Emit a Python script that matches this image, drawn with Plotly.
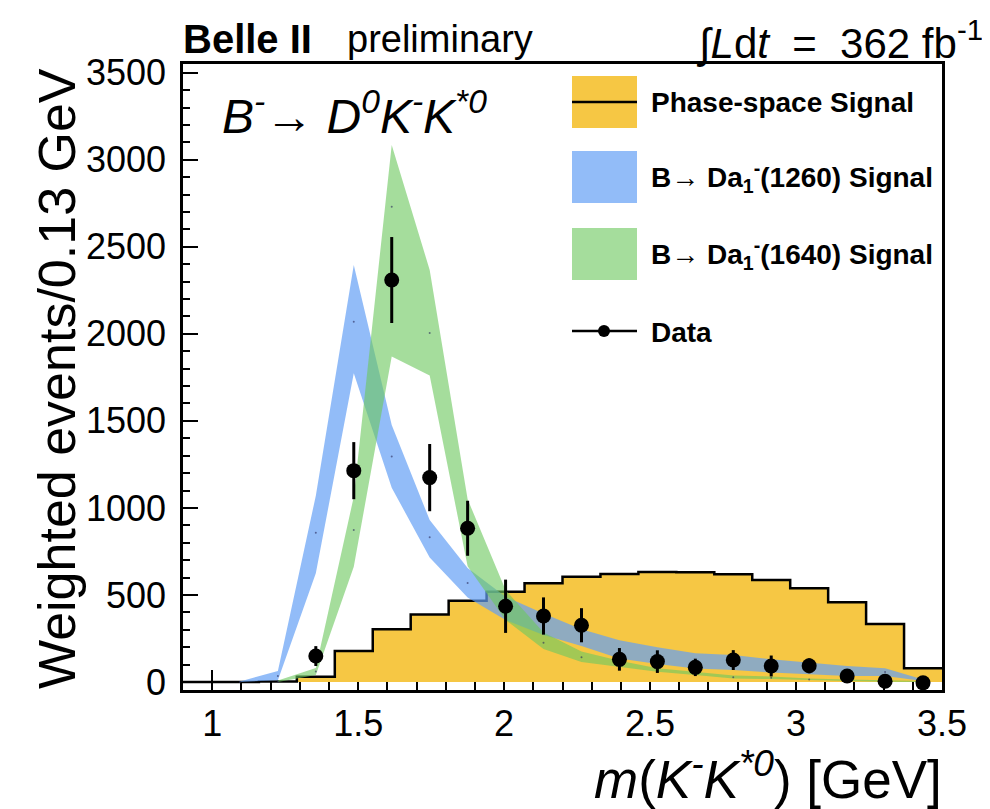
import plotly.graph_objects as go

# 20 bins of 0.13 GeV between 0.9 and 3.5 GeV
bin_edges = [0.90, 1.03, 1.16, 1.29, 1.42, 1.55, 1.68, 1.81, 1.94, 2.07, 2.20,
             2.33, 2.46, 2.59, 2.72, 2.85, 2.98, 3.11, 3.24, 3.37, 3.50]
bin_centers = [0.965, 1.095, 1.225, 1.355, 1.485, 1.615, 1.745, 1.875, 2.005, 2.135,
               2.265, 2.395, 2.525, 2.655, 2.785, 2.915, 3.045, 3.175, 3.305, 3.435]

# phase-space signal histogram (one value per bin)
phase_space = [0, 0, 3, 30, 178, 303, 388, 466, 519, 567,
               605, 620, 632, 630, 619, 586, 538, 458, 333, 79]

# B -> D a1(1260) band, bins 2..20
a1260_x = bin_centers[1:]
a1260_low = [0, 10, 624, 1773, 1116, 715, 485, 356, 270, 207,
             135, 103, 77, 69, 54, 46, 34, 34, 5]
a1260_up = [3, 63, 1070, 2395, 1476, 930, 655, 490, 394, 303,
            240, 199, 165, 155, 130, 111, 92, 79, 15]
a1260_mid = [0, 34, 858, 2070, 1296, 831, 569, 423, 332, 255,
             185, 151, 121, 112, 92, 78, 63, 57, 10]

# B -> D a1(1640) band, bins 3..20
a1640_x = bin_centers[2:]
a1640_low = [0, 40, 662, 1870, 1760, 665, 356, 190, 115, 88,
             59, 40, 20, 17, 9, 5, 2, 0]
a1640_up = [8, 80, 1064, 3085, 2367, 1050, 528, 285, 175, 122,
            79, 59, 38, 32, 20, 14, 9, 5]
a1640_mid = [3, 60, 873, 2730, 2005, 850, 450, 226, 142, 105,
             70, 50, 27, 25, 15, 10, 6, 3]

# data points, bins 4..20
data_x = bin_centers[3:]
data_y = [149, 1214, 2309, 1174, 883, 435, 379, 326, 130, 117,
          84, 126, 92, 93, 34, 4, -5]
data_err = [57, 164, 247, 193, 158, 153, 107, 98, 65, 65,
            50, 57, 60, 43, 25, 15, 10]

YELLOW = "#F6C744"
BLUE = "rgba(100,160,245,0.70)"
GREEN = "rgba(110,200,95,0.62)"
FONT = "Liberation Sans, Arial, sans-serif"

# the page body adds an 8px margin, so the figure is a bit smaller
OFF = 8
W, H = 990 - OFF, 809 - OFF
# plot area in screen pixels
L, R, T, B = 183, 942, 64, 690


def px(x):
    return (x - L) / (R - L)


def py(y):
    return (B - y) / (B - T)


fig = go.Figure()

# phase-space histogram as steps
fig.add_trace(go.Scatter(
    x=bin_edges,
    y=phase_space + [phase_space[-1]],
    mode="lines",
    line=dict(shape="hv", color="black", width=2.5),
    fill="tozeroy",
    fillcolor=YELLOW,
    hoverinfo="skip",
))


def add_band(x, low, up, mid, color):
    fig.add_trace(go.Scatter(x=x, y=low, mode="lines", line=dict(width=0),
                             hoverinfo="skip"))
    fig.add_trace(go.Scatter(x=x, y=up, mode="lines", line=dict(width=0),
                             fill="tonexty", fillcolor=color, hoverinfo="skip"))
    fig.add_trace(go.Scatter(x=x, y=mid, mode="markers",
                             marker=dict(size=2, color="rgba(40,40,90,0.6)"),
                             hoverinfo="skip"))


add_band(a1260_x, a1260_low, a1260_up, a1260_mid, BLUE)
add_band(a1640_x, a1640_low, a1640_up, a1640_mid, GREEN)

# data
fig.add_trace(go.Scatter(
    x=data_x, y=data_y, mode="markers",
    marker=dict(size=15, color="black"),
    error_y=dict(type="data", array=data_err, color="black", thickness=3, width=0),
))

fig.update_layout(
    width=W, height=H,
    margin=dict(l=L - OFF, r=W - (R - OFF), t=T - OFF, b=H - (B - OFF)),
    plot_bgcolor="white", paper_bgcolor="white",
    showlegend=False,
    font=dict(family=FONT, color="black"),
)

fig.update_xaxes(
    range=[0.9, 3.5], tick0=1, dtick=0.5,
    ticks="inside", ticklen=20, tickwidth=2, tickcolor="black",
    minor=dict(dtick=0.1, ticks="inside", ticklen=8, tickwidth=2, tickcolor="black"),
    showgrid=False, zeroline=False,
    showline=True, linewidth=2.5, linecolor="black", mirror=True,
    tickfont=dict(size=36), ticklabelstandoff=0,
    layer="below traces",
)
fig.update_yaxes(
    range=[-46, 3550], tick0=0, dtick=500,
    ticks="inside", ticklen=15, tickwidth=2, tickcolor="black",
    minor=dict(dtick=100, ticks="inside", ticklen=7, tickwidth=2, tickcolor="black"),
    showgrid=False, zeroline=False,
    showline=True, linewidth=2.5, linecolor="black", mirror=True,
    tickfont=dict(size=36), ticklabelstandoff=7,
)

# legend drawn by hand
legend_rows = [
    (102, YELLOW, "<b>Phase-space Signal</b>"),
    (177, BLUE, "<b>B→ Da<sub>1</sub><sup>-</sup>(1260) Signal</b>"),
    (254, GREEN, "<b>B→ Da<sub>1</sub><sup>-</sup>(1640) Signal</b>"),
]
for yc, col, label in legend_rows:
    fig.add_shape(type="rect", xref="paper", yref="paper",
                  x0=px(572), x1=px(637), y0=py(yc + 26), y1=py(yc - 26),
                  fillcolor=col, line=dict(width=0), layer="above")
    fig.add_annotation(x=px(649), y=py(yc), xref="paper", yref="paper",
                       text=label, showarrow=False, xanchor="left", yanchor="middle",
                       font=dict(size=28))
fig.add_shape(type="line", xref="paper", yref="paper",
              x0=px(572), x1=px(637), y0=py(102), y1=py(102),
              line=dict(color="black", width=2.5))
fig.add_shape(type="line", xref="paper", yref="paper",
              x0=px(572), x1=px(637), y0=py(331), y1=py(331),
              line=dict(color="black", width=2.5))
fig.add_shape(type="circle", xref="paper", yref="paper",
              x0=px(598), x1=px(610), y0=py(337), y1=py(325),
              fillcolor="black", line=dict(width=0))
fig.add_annotation(x=px(649), y=py(332), xref="paper", yref="paper",
                   text="<b>Data</b>", showarrow=False, xanchor="left",
                   yanchor="middle", font=dict(size=28))

# header and labels
fig.add_annotation(x=px(181), y=py(39), xref="paper", yref="paper",
                   text="<b>Belle II</b>", showarrow=False, xanchor="left",
                   yanchor="middle", font=dict(size=40))
fig.add_annotation(x=px(345), y=py(39), xref="paper", yref="paper",
                   text="preliminary", showarrow=False, xanchor="left",
                   yanchor="middle", font=dict(size=38))
fig.add_annotation(x=px(985), y=py(40), xref="paper", yref="paper",
                   text="∫<i>L</i>d<i>t</i>  =  362 fb<sup>-1</sup>", showarrow=False,
                   xanchor="right", yanchor="middle", font=dict(size=42))
fig.add_annotation(x=px(220), y=py(113), xref="paper", yref="paper",
                   text="<i>B<sup>-</sup>→ D<sup>0</sup>K<sup>-</sup>K<sup>*0</sup></i>",
                   showarrow=False, xanchor="left", yanchor="middle",
                   font=dict(size=48))
fig.add_annotation(x=px(944), y=py(775), xref="paper", yref="paper",
                   text="<i>m</i>(<i>K<sup>-</sup>K<sup>*0</sup></i>) [GeV]",
                   showarrow=False, xanchor="right", yanchor="middle",
                   font=dict(size=53))
fig.add_annotation(x=px(57), y=py(379), xref="paper", yref="paper",
                   text="Weighted events/0.13 GeV", textangle=-90,
                   showarrow=False, xanchor="center", yanchor="middle",
                   font=dict(size=52))

fig.write_html("out.html")
